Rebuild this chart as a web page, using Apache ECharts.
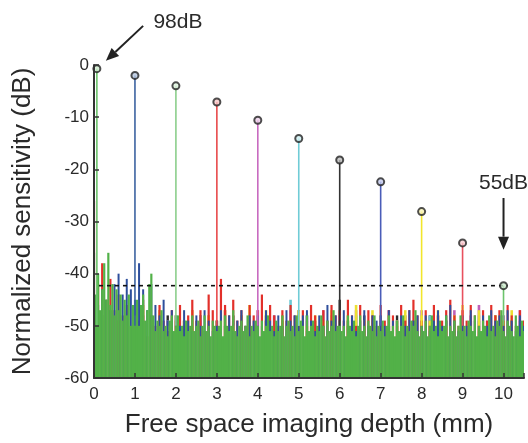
<!DOCTYPE html>
<html><head><meta charset="utf-8">
<script src="https://cdn.jsdelivr.net/npm/echarts@6/dist/echarts.min.js"></script>
<style>html,body{margin:0;padding:0;background:#fff}#c{width:528px;height:443px}</style>
</head><body><div id="c"></div>
<script>
// ---------- data ----------
const xTickLabels = [0,1,2,3,4,5,6,7,8,9,10];
const yTickLabels = [-60,-50,-40,-30,-20,-10,0];
const xAxisTitle = 'Free space imaging depth (mm)';
const yAxisTitle = 'Normalized sensitivity (dB)';

const peakDepth = [0.07,1,2,3,4,5,6,7,8,9,10];
const peakLevel = [-0.7,-2.0,-4.0,-7.1,-10.6,-14.1,-18.2,-22.4,-28.1,-34.1,-42.3];
const peakBase  = -50;

const refLevel = -42.3;
const refFrom = -0.66;
const refTo = 10.1;

const noteTexts = ['98dB','55dB'];
const noteTextPos = [[2.05, 8.2],[10.0,-22.6]];
const noteArrowFrom = [[1.2, 7.5],[10.0,-25.5]];
const noteArrowTo   = [[0.29, 0.8],[10.0,-35.4]];

const greenStep = 0.05;
const greenNoise = [
-36,-44,-40,-47,-43,-38,-45,-36,-46,-42,-48,-43,-47,-44,-49,-45,-48,-44,-50,-46,
-48,-45,-50,-46,-44,-49,-47,-42,-40,-48,-51,-49,-50,-47,-51,-50,-52,-49,-48,-51,
-50,-48,-51,-50,-52,-49,-51,-50,-48,-51,-50,-49,-52,-50,-48,-51,-50,-52,-49,-50,
-51,-50,-49,-52,-48,-50,-51,-50,-47,-51,-52,-50,-49,-51,-50,-48,-52,-50,-51,-49,
-50,-52,-49,-51,-50,-48,-51,-50,-52,-49,-51,-50,-48,-52,-50,-49,-51,-50,-52,-48,
-51,-49,-50,-52,-48,-51,-50,-49,-52,-50,-51,-48,-50,-52,-49,-51,-50,-47,-51,-50,
-49,-51,-50,-52,-48,-50,-51,-49,-52,-50,-48,-51,-50,-52,-49,-50,-51,-48,-52,-50,
-51,-49,-52,-50,-48,-51,-50,-52,-49,-51,-50,-48,-52,-50,-51,-49,-50,-47,-51,-52,
-50,-51,-49,-52,-50,-48,-51,-50,-52,-49,-51,-50,-48,-52,-50,-51,-49,-52,-50,-48,
-51,-50,-52,-49,-50,-51,-48,-52,-50,-51,-49,-50,-52,-48,-51,-50,-52,-49,-50,-47,
-51,-52,-49,-50,-51,-52,-48,-50,-52,-49,-51
];

const redStep = 0.1;
const redNoise = [
-26,-42,-38,-45,-41,-47,-44,-48,-46,-50,
-47,-49,-45,-52,-48,-50,-46,-49,-51,-47,
-49,-46,-50,-48,-45,-49,-47,-51,-44,-47,
-49,-41,-46,-48,-45,-49,-47,-50,-46,-48,
-47,-44,-49,-46,-48,-50,-47,-49,-46,-48,
-50,-47,-49,-46,-48,-50,-47,-49,-46,-48,
-47,-49,-45,-48,-50,-46,-49,-47,-48,-50,
-46,-49,-47,-48,-50,-46,-49,-47,-45,-48,
-49,-47,-50,-46,-48,-49,-47,-45,-48,-50,
-47,-49,-46,-48,-50,-47,-49,-46,-48,-47,
-49,-46,-48,-50,-47,-49
];

const blueStep = 0.1;
const blueNoise = [
-44,-46,-43,-45,-47,-42,-40,-44,-41,-43,
-45,-38,-43,-47,-42,-46,-48,-45,-49,-47,
-48,-50,-47,-49,-51,-48,-50,-47,-49,-51,
-49,-47,-50,-48,-51,-49,-47,-50,-48,-49,
-48,-50,-47,-49,-51,-48,-50,-47,-49,-48,
-50,-48,-47,-49,-51,-48,-50,-46,-49,-48,
-49,-47,-50,-48,-51,-49,-47,-50,-48,-49,
-48,-50,-47,-49,-51,-48,-50,-47,-49,-48,
-50,-48,-51,-49,-47,-50,-48,-46,-49,-51,
-48,-50,-47,-49,-51,-48,-50,-47,-49,-48,
-50,-47,-49,-51,-48,-50
];

const coarseStep = 0.2;
const yellowNoise = [
-46,-48,-47,-49,-50,-48,-46,-49,-47,-50,-48,-49,-47,-50,-48,-49,-47,-50,-48,-46,
-49,-47,-50,-48,-49,-47,-50,-48,-49,-47,-50,-48,-46,-49,-47,-50,-48,-49,-47,-50,
-48,-49,-47,-50,-48,-46,-49,-47,-50,-48,-49,-47,-50
];
const blackNoise = [
-50,-48,-51,-49,-50,-47,-51,-49,-50,-48,-51,-49,-50,-48,-51,-49,-50,-48,-51,-49,
-50,-48,-51,-49,-50,-47,-51,-49,-50,-48,-45,-49,-50,-48,-51,-49,-50,-48,-51,-49,
-50,-48,-51,-49,-50,-48,-51,-49,-50,-48,-51,-49,-50
];
const magentaNoise = [
-47,-49,-48,-50,-47,-49,-48,-50,-47,-49,-48,-50,-47,-49,-48,-50,-47,-49,-48,-50,
-47,-49,-48,-50,-47,-49,-48,-50,-47,-49,-48,-50,-47,-49,-48,-50,-47,-49,-48,-50,
-47,-49,-48,-50,-47,-49,-48,-46,-49,-50,-48,-49,-47
];
const cyanNoise = [
-49,-48,-50,-49,-48,-50,-49,-48,-50,-49,-48,-50,-49,-48,-50,-49,-48,-50,-49,-48,
-50,-49,-48,-50,-45,-49,-48,-50,-49,-48,-50,-49,-48,-50,-49,-48,-50,-49,-48,-50,
-49,-48,-50,-49,-48,-50,-49,-48,-50,-49,-48,-50,-49
];

// ---------- styles ----------
const peakColor = ['#6cc46c','#3b62a0','#8ccf8c','#e84a4c','#c86ac0','#70ccd6','#333333','#4a5cb8','#f2e62c','#e8505e','#6cc46c'];
const peakFill  = ['#cfeccf','#b8c8e0','#dff2df','#f6c8c8','#ecd0ea','#d0f0f3','#bbbbbb','#c4cbee','#faf5b8','#f6c9ce','#cfeccf'];
const FONT = "'Liberation Sans', Arial, Helvetica, sans-serif";
const TXT = '#2a2a2a';

function toPairs(vals, step){ return vals.map((v,i)=>[+(i*step).toFixed(3), v]); }

function noiseSeries(vals, step, color, w, z){
  return {
    type:'custom', data: toPairs(vals, step), z: z, clip:true, silent:true, animation:false,
    encode:{x:0, y:1},
    renderItem:(params, api)=>{
      const x = api.value(0), v = api.value(1);
      const top = api.coord([x, v]);
      const bot = api.coord([x, -60]);
      return {type:'rect', shape:{x: top[0]-w/2, y: top[1], width: w, height: bot[1]-top[1]},
        style:{fill: color}};
    }
  };
}

const series = [
  noiseSeries(blackNoise, coarseStep, '#2b2b2b', 2.4, 2),
  noiseSeries(cyanNoise, coarseStep, '#6cc8d4', 2.6, 2),
  noiseSeries(magentaNoise, coarseStep, '#c060b8', 2.6, 2),
  noiseSeries(yellowNoise, coarseStep, '#ece030', 2.6, 2),
  noiseSeries(redNoise, redStep, '#e2302a', 2.2, 2),
  noiseSeries(blueNoise, blueStep, '#2e4f9c', 2.0, 2),
  noiseSeries(greenNoise, greenStep, '#52b148', 2.2, 3)
];

peakDepth.forEach((d,i)=>{
  series.push({
    type:'line', data:[[d, peakBase],[d, peakLevel[i]]], symbol:'none', z:4,
    lineStyle:{color: peakColor[i], width:1.6}, silent:true, animation:false
  });
});

series.push({
  type:'line', data:[[refFrom, refLevel],[refTo, refLevel]], symbol:'none', clip:false, z:5,
  lineStyle:{color:'#111', width:1.6, type:[4,4]}, silent:true, animation:false
});

series.push({
  type:'scatter', data: peakDepth.map((d,i)=>({value:[d, peakLevel[i]], itemStyle:{color: peakFill[i]}})),
  symbol:'circle', symbolSize:7, z:6,
  itemStyle:{borderColor:'#222', borderWidth:2}, silent:true, animation:false
});

const chart = echarts.init(document.getElementById('c'), null, {renderer:'canvas'});
chart.setOption({
  animation:false,
  backgroundColor:'#fff',
  grid:{left:94, right:4, top:65, bottom:63, containLabel:false},
  xAxis:{
    type:'value', min:0, max:10.5, interval:1, z:10,
    name: xAxisTitle, nameLocation:'middle', nameGap:34,
    nameTextStyle:{fontFamily:FONT, fontSize:26, color:TXT},
    axisLine:{show:true, onZero:false, lineStyle:{color:'#333', width:2}},
    axisTick:{show:true, inside:true, length:5, lineStyle:{color:'#333', width:1.5}},
    axisLabel:{fontFamily:FONT, fontSize:17, color:TXT, margin:8,
      formatter:v => xTickLabels.includes(v) ? String(v) : ''},
    splitLine:{show:false}
  },
  yAxis:{
    type:'value', min:-60, max:0, interval:10, z:10,
    name: yAxisTitle, nameLocation:'middle', nameGap:58, nameRotate:90,
    nameTextStyle:{fontFamily:FONT, fontSize:26, color:TXT},
    axisLine:{show:true, onZero:false, lineStyle:{color:'#333', width:2}},
    axisTick:{show:true, inside:true, length:5, lineStyle:{color:'#333', width:1.5}},
    axisLabel:{fontFamily:FONT, fontSize:17, color:TXT, margin:5,
      formatter:v => yTickLabels.includes(v) ? String(v) : ''},
    splitLine:{show:false}
  },
  series: series
});

// annotations
const g = [];
noteTexts.forEach((t,i)=>{
  const p = chart.convertToPixel({gridIndex:0}, noteTextPos[i]);
  g.push({type:'text', x:p[0], y:p[1], z:20,
    style:{text:t, fontFamily:FONT, fontSize:21, fill:TXT, align:'center', verticalAlign:'middle'}});
  const a = chart.convertToPixel({gridIndex:0}, noteArrowFrom[i]);
  const b = chart.convertToPixel({gridIndex:0}, noteArrowTo[i]);
  const dx = b[0]-a[0], dy = b[1]-a[1], L = Math.hypot(dx,dy);
  const ux = dx/L, uy = dy/L, hl = 13, hw = 5.5;
  const bx = b[0]-ux*hl, by = b[1]-uy*hl;
  g.push({type:'line', z:20, shape:{x1:a[0], y1:a[1], x2:bx, y2:by},
    style:{stroke:'#222', lineWidth:2}});
  g.push({type:'polygon', z:20, shape:{points:[[b[0],b[1]],[bx - uy*hw, by + ux*hw],[bx + uy*hw, by - ux*hw]]},
    style:{fill:'#222'}});
});
chart.setOption({graphic: g});
</script></body></html>
